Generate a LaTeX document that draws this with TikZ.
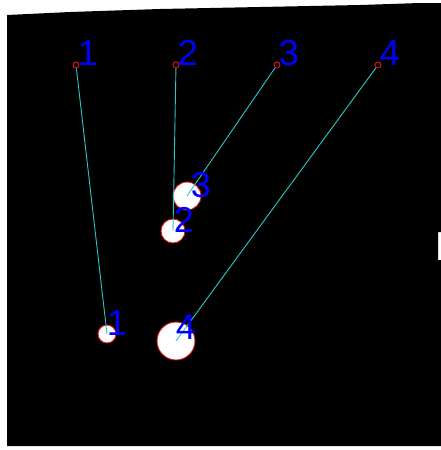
\documentclass[tikz,border=0pt]{standalone}
\usepackage{fontspec}
\setsansfont{Liberation Sans}
\usetikzlibrary{positioning}

\definecolor{trkcyan}{RGB}{40,200,200}
\definecolor{trkred}{RGB}{230,20,20}
\definecolor{trkblue}{RGB}{0,0,255}

\begin{document}
\begin{tikzpicture}[
  x=1pt, y=-1pt,
  seed/.style={
    draw=trkred, circle, line width=0.9pt,
    minimum size=6pt, inner sep=0pt
  },
  blob/.style={
    draw=trkred, fill=white, circle, line width=0.9pt,
    inner sep=0pt
  },
  num/.style={
    text=trkblue, inner sep=0pt,
    font=\sffamily\fontsize{36}{36}\selectfont
  },
  trk/.style={trkcyan, line width=0.9pt},
]
\useasboundingbox (0,0) rectangle (441,450);

%% black frame (slightly tilted scan)
\fill[black] (7,15) -- (70,12) -- (160,9) -- (260,7) -- (360,5)
  -- (420,3) -- (441,3) -- (441,232) -- (438,232) -- (438,260)
  -- (441,260) -- (441,446) -- (7,446) -- cycle;

%% start points
\node[seed] (t1) at (76,65) {};
\node[seed] (t2) at (176,65) {};
\node[seed] (t3) at (277,65) {};
\node[seed] (t4) at (378,65) {};

%% detected blobs
\node[blob, minimum size=18pt] (b1) at (107,334) {};
\node[blob, minimum size=24pt] (b2) at (173,231) {};
\node[blob, minimum size=28pt] (b3) at (187,196) {};
\node[blob, minimum size=38pt] (b4) at (176,341) {};

%% tracks
\draw[trk] (t1) -- (b1.center);
\draw[trk] (t2) -- (b2.center);
\draw[trk] (t3) -- (b3.center);
\draw[trk] (t4) -- (b4.center);

%% labels
\node[num] (l1) at (88,53) {1};
\node[num] (l2) at (188,53) {2};
\node[num] (l3) at (289,53) {3};
\node[num] (l4) at (390,53) {4};

\node[num] (m1) at (117,323) {1};
\node[num] (m2) at (184,220) {2};
\node[num] (m3) at (201,185) {3};
\node[num] (m4) at (186,327) {4};
\end{tikzpicture}
\end{document}
